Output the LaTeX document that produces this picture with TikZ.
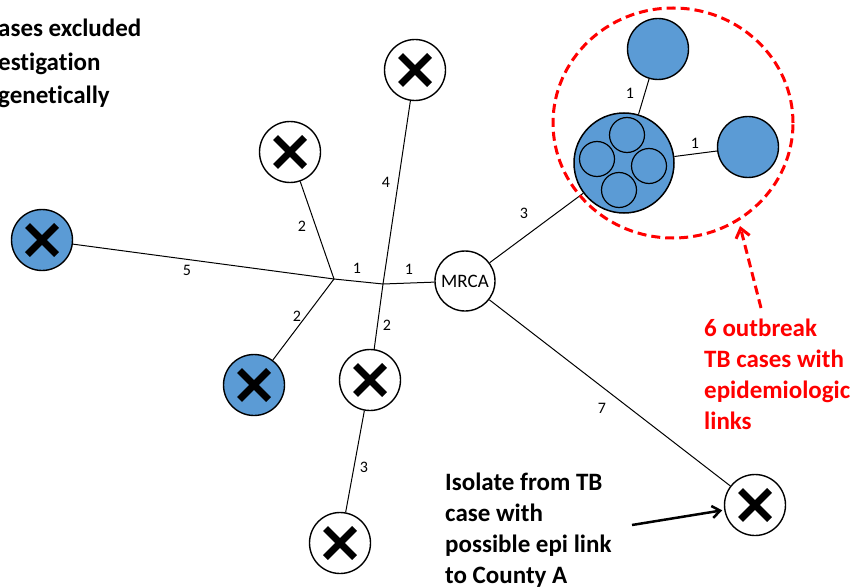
\documentclass[tikz,border=0pt]{standalone}
\usepackage{fontspec}
\setmainfont{Carlito}[Ligatures=CommonOff]
\usetikzlibrary{arrows.meta,shapes.geometric}
\definecolor{caseblue}{HTML}{5B9BD5}

\begin{document}
\begin{tikzpicture}[x=1pt,y=-1pt,
  edge/.style={line width=1pt},
  case/.style={circle,draw,line width=1.4pt,minimum size=61pt,inner sep=0pt,fill=white},
  bluecase/.style={case,fill=caseblue},
  xmark/.style={path picture={
      \draw[line width=7pt]
        ([shift={(-14.5,-14.5)}]path picture bounding box.center) -- ([shift={(14.5,14.5)}]path picture bounding box.center)
        ([shift={(-14.5,14.5)}]path picture bounding box.center) -- ([shift={(14.5,-14.5)}]path picture bounding box.center);}},
  subcase/.style={circle,draw,line width=1.2pt,minimum size=35pt,inner sep=0pt,fill=caseblue},
  elabel/.style={font=\fontsize{16}{18}\selectfont,inner sep=1pt},
  note/.style={font=\fontsize{25}{31}\selectfont\bfseries,align=left,anchor=north west,inner sep=0pt},
  outline/.style={draw=red,red,line width=3pt,dash pattern=on 9pt off 5pt}
]
\useasboundingbox (0,0) rectangle (853,588);

% case nodes
\node[case,xmark] (ta) at (415,70) {};
\node[case,xmark] (tb) at (290,152) {};
\node[bluecase,xmark] (la) at (42,240) {};
\node[bluecase,xmark] (lb) at (254,385) {};
\node[case,xmark] (mc) at (370,380) {};
\node[case,xmark] (bc) at (340,543) {};
\node[case,xmark] (br) at (755,505) {};
\node[case,minimum size=60pt,font=\fontsize{19}{21}\selectfont] (mrca) at (465,281) {MRCA};

% outbreak cluster
\node[circle,draw,line width=1.5pt,fill=caseblue,minimum size=100pt,inner sep=0pt] (cl) at (624,163) {};
\node[subcase] (s1) at (627,135) {};
\node[subcase] (s2) at (597,159) {};
\node[subcase] (s3) at (649,166) {};
\node[subcase] (s4) at (619,190) {};
\node[bluecase] (tp) at (658,49) {};
\node[bluecase] (rp) at (748,147) {};

% branch points
\coordinate (j1) at (334,279);
\coordinate (j2) at (383,284);

% branches
\draw[edge] (la) -- (j1);
\draw[edge] (tb) -- (j1);
\draw[edge] (lb) -- (j1);
\draw[edge] (j1) -- (j2) -- (mrca);
\draw[edge] (ta) -- (j2) -- (mc);
\draw[edge] (mc) -- (bc);
\draw[edge] (mrca) -- (cl);
\draw[edge] (mrca) -- (br);
\draw[edge] (cl) -- (tp);
\draw[edge] (cl) -- (rp);

% branch lengths
\node[elabel] (l1) at (187,270) {5};
\node[elabel] (l2) at (302,226) {2};
\node[elabel] (l3) at (297,316) {2};
\node[elabel] (l4) at (357,268) {1};
\node[elabel] (l5) at (409,269) {1};
\node[elabel] (l6) at (386,182) {4};
\node[elabel] (l7) at (387,325) {2};
\node[elabel] (l8) at (524,213) {3};
\node[elabel] (l9) at (602,408) {7};
\node[elabel] (l10) at (364,467) {3};
\node[elabel] (l11) at (630,93) {1};
\node[elabel] (l12) at (695,143) {1};

% outbreak outline and callout
\node[ellipse,outline,minimum width=240pt,minimum height=230pt,inner sep=0pt] (ob) at (673,123) {};
\coordinate (rtail) at (761,308);
\coordinate (rtip) at (740,226);
\draw[outline,-{Straight Barb[length=9pt,width=14pt]}] (rtail) -- (rtip);
\node[note,text=red] (rednote) at (704,319) {6 outbreak\\TB cases with\\epidemiologic\\links};

% isolate callout
\node[note] (isonote) at (445,473) {Isolate from TB\\case with\\possible epi link\\to County A};
\coordinate (btail) at (632,525);
\draw[line width=2.5pt,-{Straight Barb[length=8pt,width=12pt]},shorten >=2pt] (btail) -- (br);

% excluded cases note
\node[note,font=\fontsize{25}{33.5}\selectfont\bfseries] (exnote) at (-2,19) {ases excluded\\estigation\\genetically};
\end{tikzpicture}
\end{document}
